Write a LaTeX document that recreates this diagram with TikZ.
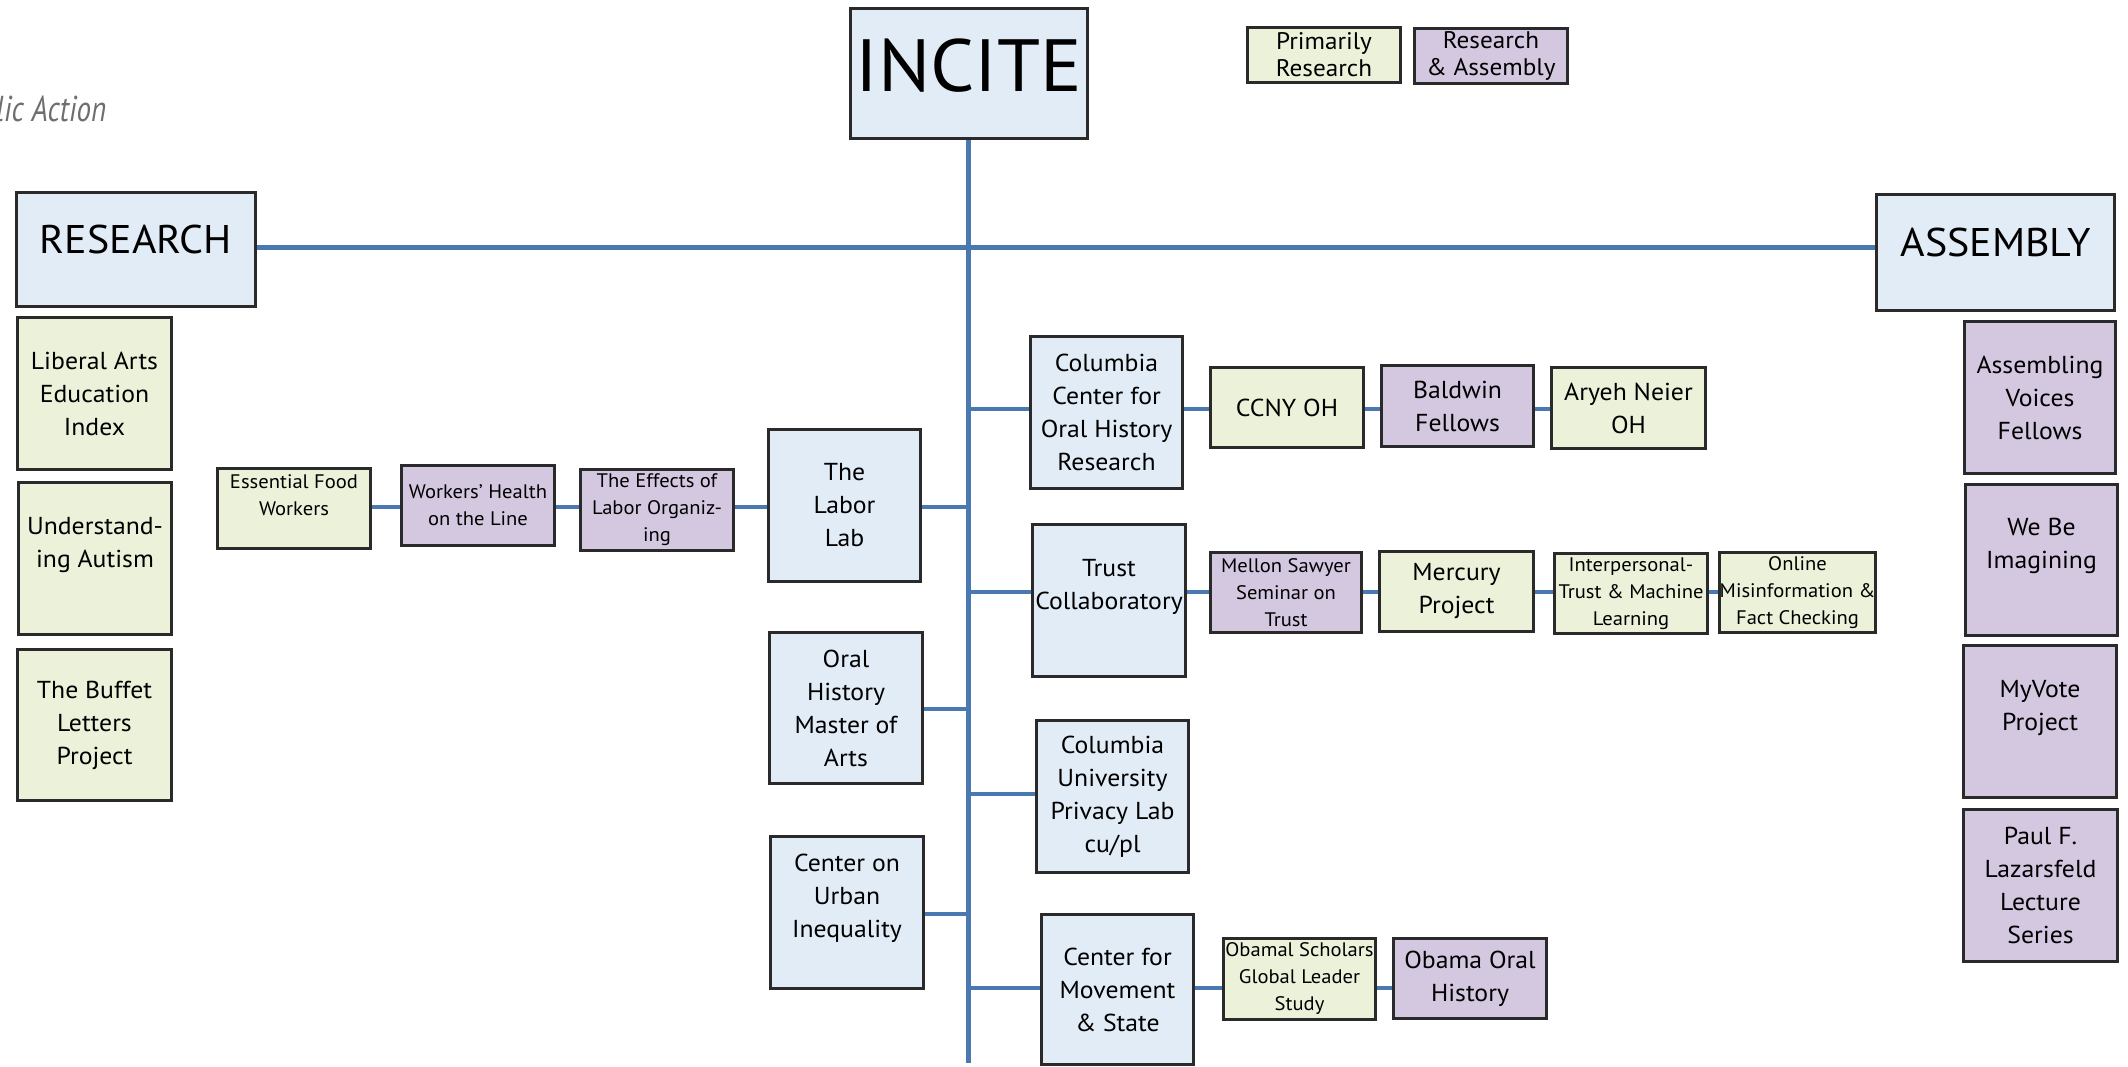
\documentclass[tikz,border=0pt]{standalone}
\usepackage{fontspec}
\setmainfont{PT Sans}[FakeStretch=1.05]
\usepackage{graphicx}
\definecolor{lineblue}{HTML}{4A78B0}
\definecolor{boxline}{HTML}{2B2A2B}
\definecolor{blueF}{HTML}{E2ECF6}
\definecolor{greenF}{HTML}{ECF1DA}
\definecolor{purpleF}{HTML}{D4C8E1}
\definecolor{grayT}{HTML}{6D6E70}
\newcommand\fbig{\fontsize{24.5}{33}\selectfont}
\newcommand\fsmall{\fontsize{19.6}{27}\selectfont}
\newcommand\lift[2]{\raisebox{#1}[\height][\depth]{#2}}
\newcommand\mybox[7]{%
 \pgfmathsetmacro\bw{#5-#3-3}\pgfmathsetmacro\bh{#6-#4-3}%
 \pgfmathsetmacro\bcx{(#3+#5)/2}\pgfmathsetmacro\bcy{(#4+#6)/2}%
 \node[#1, minimum width=\bw pt, minimum height=\bh pt] (#2) at (\bcx,\bcy) {#7};}
\tikzset{
 bx/.style={draw=boxline, line width=3pt, inner sep=0pt, align=center, text=black, font=\fbig},
 blu/.style={bx, fill=blueF},
 grn/.style={bx, fill=greenF},
 pur/.style={bx, fill=purpleF},
 sm/.style={font=\fsmall},
 conn/.style={draw=lineblue, line width=4.5pt},
 trunk/.style={draw=lineblue, line width=5pt}
}
\begin{document}
\begin{tikzpicture}[x=1pt,y=-1pt]
\useasboundingbox (0,0) rectangle (2128,1067);
\fill[white] (0,0) rectangle (2128,1067);

% title fragment
\node[anchor=base west, inner sep=0pt, text=grayT, font=\fontsize{36}{40}\selectfont\itshape] (pa) at (-4,122) {\scalebox{0.77}[1]{lic Action}};

% coordinates
\coordinate (tend) at (968,1063);
\coordinate (t1) at (968,409);
\coordinate (t2) at (968,507);
\coordinate (t3) at (968,592);
\coordinate (t4) at (968,709);
\coordinate (t5) at (968,794);
\coordinate (t6) at (968,914);
\coordinate (t7) at (968,988);

% connectors first (drawn behind boxes)
\draw[trunk] (968,140) -- (tend);
\draw[trunk] (257,248) -- (1875,248);
\draw[conn] (t1) -- (1029,409);
\draw[conn] (1184,409) -- (1550,409);
\draw[conn] (t2) -- (216,507);
\draw[conn] (t3) -- (1876,592);
\draw[conn] (t4) -- (924,709);
\draw[conn] (t5) -- (1035,794);
\draw[conn] (t6) -- (925,914);
\draw[conn] (t7) -- (1392,988);

% main boxes
\mybox{blu, font=\fontsize{74}{78}\selectfont}{incite}{849}{7}{1089}{140}{\lift{8pt}{INCITE}}
\mybox{blu, font=\fontsize{40}{44}\selectfont}{research}{15}{191}{257}{308}{\lift{10pt}{RESEARCH}}
\mybox{blu, font=\fontsize{40}{44}\selectfont}{assembly}{1875}{193}{2116}{312}{\lift{10pt}{ASSEMBLY}}

% legend
\mybox{grn, font=\fontsize{24}{27}\selectfont}{leg1}{1246}{26}{1402}{84}{Primarily\\Research}
\mybox{pur, font=\fontsize{24}{27}\selectfont}{leg2}{1413}{27}{1569}{85}{Research\\\& Assembly}

% research column
\mybox{grn}{libarts}{16}{316}{173}{471}{Liberal Arts\\Education\\Index}
\mybox{grn}{autism}{17}{481}{173}{636}{Understand-\\ing Autism\\~}
\mybox{grn}{buffet}{16}{648}{173}{802}{The Buffet\\Letters\\Project}

% labor lab chain
\mybox{grn, sm}{essential}{216}{467}{372}{550}{Essential Food\\Workers\\~}
\mybox{pur, sm}{workers}{400}{464}{556}{547}{Workers’ Health\\on the Line}
\mybox{pur, sm}{effects}{579}{468}{735}{552}{The Effects of\\Labor Organiz-\\ing}
\mybox{blu}{laborlab}{767}{428}{922}{583}{The\\Labor\\Lab}
\mybox{blu}{ohma}{768}{631}{924}{785}{Oral\\History\\Master of\\Arts}
\mybox{blu}{urban}{769}{835}{925}{990}{Center on\\Urban\\Inequality\\~}

% right side
\mybox{blu}{ccohr}{1029}{335}{1184}{490}{Columbia\\Center for\\Oral History\\Research}
\mybox{grn}{ccny}{1209}{366}{1365}{449}{CCNY OH}
\mybox{pur}{baldwin}{1380}{364}{1535}{448}{Baldwin\\Fellows}
\mybox{grn}{aryeh}{1550}{366}{1707}{450}{Aryeh Neier\\OH}

\mybox{blu}{trust}{1031}{523}{1187}{678}{Trust\\Collaboratory\\~}
\mybox{pur, sm}{mellon}{1209}{551}{1363}{634}{Mellon Sawyer\\Seminar on\\Trust}
\mybox{grn}{mercury}{1378}{550}{1535}{633}{Mercury\\Project}
\mybox{grn, sm}{interp}{1553}{552}{1709}{635}{Interpersonal-\\Trust \& Machine\\Learning}
\mybox{grn, sm}{online}{1719}{551}{1876}{634}{Online\\Misinformation \&\\Fact Checking}

\mybox{blu}{privacy}{1035}{719}{1190}{874}{Columbia\\University\\Privacy Lab\\cu/pl}
\mybox{blu}{movement}{1040}{913}{1195}{1066}{Center for\\Movement\\\& State}
\mybox{grn, sm}{obamal}{1222}{937}{1377}{1021}{Obamal Scholars\\Global Leader\\Study}
\mybox{pur}{obamaoral}{1392}{937}{1548}{1020}{Obama Oral\\History}

% assembly column
\mybox{pur}{avf}{1963}{320}{2117}{475}{Assembling\\Voices\\Fellows}
\mybox{pur}{webe}{1964}{483}{2119}{637}{We Be\\Imagining\\~}
\mybox{pur}{myvote}{1962}{644}{2118}{799}{MyVote\\Project\\~}
\mybox{pur}{paul}{1962}{808}{2119}{963}{Paul F.\\Lazarsfeld\\Lecture\\Series}
\end{tikzpicture}
\end{document}
